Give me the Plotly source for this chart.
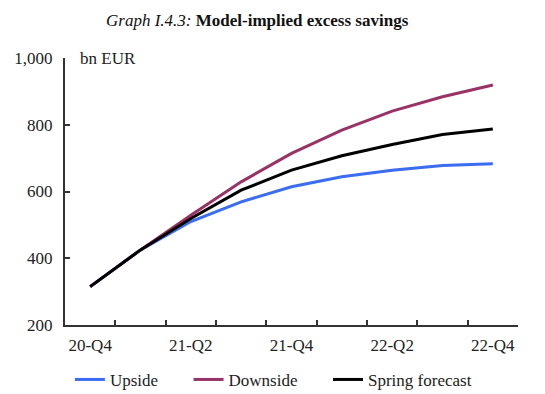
import plotly.graph_objects as go

categories = ["20-Q4", "21-Q1", "21-Q2", "21-Q3", "21-Q4", "22-Q1", "22-Q2", "22-Q3", "22-Q4"]
tick_labels = ["20-Q4", "", "21-Q2", "", "21-Q4", "", "22-Q2", "", "22-Q4"]
upside = [315, 425, 510, 569, 614, 644, 664, 678, 683]
downside = [315, 425, 529, 629, 714, 784, 841, 884, 919]
spring = [315, 425, 519, 604, 664, 707, 741, 771, 787]
series_names = ["Upside", "Downside", "Spring forecast"]

FONT = "Liberation Serif, Times New Roman, serif"
NB = "\u00a0"

fig = go.Figure()
fig.add_trace(go.Scatter(x=categories, y=upside, name=series_names[0] + NB * 6, mode="lines",
                         line=dict(color="#3a6cf4", width=3)))
fig.add_trace(go.Scatter(x=categories, y=downside, name=series_names[1] + NB * 6, mode="lines",
                         line=dict(color="#993366", width=3)))
fig.add_trace(go.Scatter(x=categories, y=spring, name=series_names[2], mode="lines",
                         line=dict(color="#000000", width=3)))

fig.update_layout(
    width=537, height=386,
    margin=dict(l=57, r=27, t=49.5, b=69, autoexpand=False),
    paper_bgcolor="white", plot_bgcolor="white",
    font=dict(family=FONT, size=17, color="#222222"),
    showlegend=True,
    title=dict(text="<i>Graph I.4.3:</i> <b>Model-implied excess savings</b>",
               x=0.464, xref="container", xanchor="center",
               y=0.969, yanchor="middle", font=dict(family=FONT, size=17, color="#111111")),
    legend=dict(orientation="h", x=0.460, xanchor="center",
                y=-0.2056, yanchor="middle", font=dict(size=17),
                bgcolor="rgba(0,0,0,0)"),
    xaxis=dict(type="category", tickmode="array", tickvals=categories, ticktext=tick_labels,
               tickson="boundaries", ticks="inside", ticklen=5, tickwidth=1.5,
               tickcolor="#333333", showline=True, linecolor="#333333", linewidth=2,
               showgrid=False, zeroline=False, range=[-0.5, 8.5], tickangle=0,
               automargin=False, ticklabelstandoff=4),
    yaxis=dict(range=[200, 1000], tickvals=[200, 400, 600, 800, 1000],
               ticktext=["200", "400", "600", "800", "1,000"], automargin=False,
               ticks="inside", ticklen=5, tickwidth=1.5, tickcolor="#333333",
               showline=True, linecolor="#333333", linewidth=2,
               showgrid=False, zeroline=False, ticklabelstandoff=7),
    annotations=[dict(text="bn EUR", xref="paper", yref="paper", x=0.028, y=1.0,
                      xanchor="left", yanchor="middle", showarrow=False,
                      font=dict(family=FONT, size=17, color="#222222"))],
)

fig.write_html("out.html")
